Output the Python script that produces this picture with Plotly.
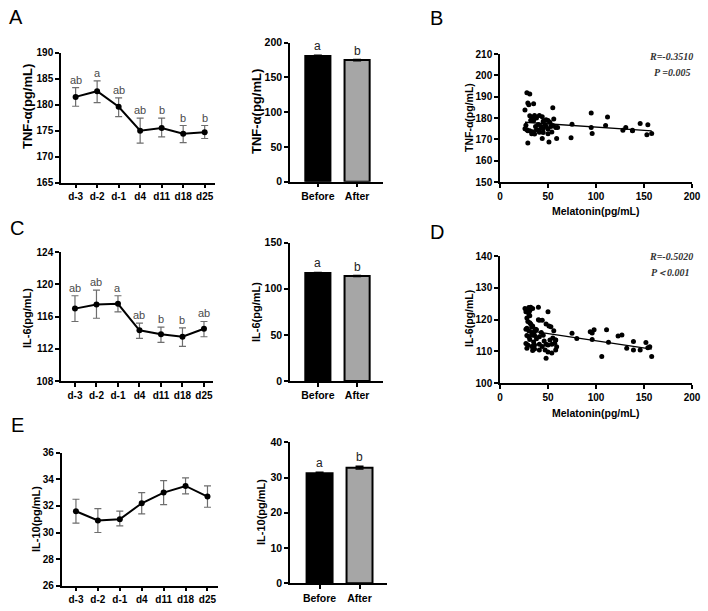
import numpy as np
import plotly.graph_objects as go

W, H = 708, 611

# ---------------- data ----------------
days = ["d-3", "d-2", "d-1", "d4", "d11", "d18", "d25"]
groups = ["Before", "After"]

tnf_mean = [181.5, 182.6, 179.6, 175.0, 175.5, 174.4, 174.7]
tnf_upper = [183.3, 184.6, 181.3, 177.4, 177.4, 176.0, 176.0]
tnf_lower = [179.7, 180.4, 177.7, 172.6, 173.8, 172.7, 173.5]
tnf_letters = ["ab", "a", "ab", "ab", "b", "b", "b"]

il6_mean = [117.0, 117.5, 117.6, 114.3, 113.8, 113.5, 114.5]
il6_upper = [118.6, 119.3, 118.6, 115.2, 114.7, 114.6, 115.4]
il6_lower = [115.4, 115.8, 116.6, 113.3, 112.8, 112.3, 113.5]
il6_letters = ["ab", "ab", "a", "ab", "b", "b", "ab"]

il10_mean = [31.6, 30.9, 31.0, 32.2, 33.0, 33.5, 32.7]
il10_upper = [32.5, 31.8, 31.6, 33.0, 33.9, 34.1, 33.5]
il10_lower = [30.7, 30.0, 30.5, 31.4, 32.1, 32.9, 31.9]

tnf_bar = [180.8, 175.0]
tnf_bar_err = [1.0, 0.8]
il6_bar = [117.2, 113.9]
il6_bar_err = [0.5, 0.5]
il10_bar = [31.2, 32.8]
il10_bar_err = [0.3, 0.4]
bar_letters = ["a", "b"]

mel_b = [28, 31, 29, 30, 35, 26, 55,
         31, 34, 36, 41, 44,
         27, 26, 32, 35, 38, 45, 48, 50, 56,
         28, 31, 34, 38, 41, 45, 48, 50, 53, 55, 58, 60,
         33, 36, 41, 45, 50, 54,
         29, 37, 40, 43, 47, 52,
         29, 44, 51, 59,
         74, 75, 95, 95, 96, 112, 110,
         128, 131, 138, 138, 146, 154, 153, 158]
tnf_b = [191.8, 191.2, 187.0, 186.2, 186.7, 183.8, 184.8,
         181.0, 180.3, 181.2, 181.2, 180.6,
         176.6, 175.0, 179.0, 178.8, 180.0, 178.5, 179.2, 178.8, 179.5,
         174.5, 174.0, 173.5, 174.5, 174.5, 175.0, 176.0, 174.8, 176.0, 176.5, 175.5, 175.5,
         172.6, 172.5, 173.3, 173.2, 172.6, 173.4,
         174.0, 176.0, 177.0, 176.0, 177.0, 178.0,
         168.3, 170.4, 168.8, 170.4,
         170.7, 177.1, 182.4, 175.5, 172.7, 180.5, 176.5,
         174.3, 175.5, 174.0, 174.3, 177.4, 176.8, 172.1, 172.7]

mel_d = [26, 28, 30, 32, 34, 31, 27, 30, 31, 28, 40, 50,
         29, 31, 32, 40, 41, 44, 48, 51, 53,
         28, 33, 34, 27, 30, 33, 35, 36,
         28, 30, 33, 36, 38, 41, 45, 52, 55, 58,
         27, 29, 33, 36, 41, 44, 48, 50, 54, 57, 58,
         28, 36, 41, 47, 50, 54, 58, 59,
         48, 34, 35, 31, 37, 43, 46, 56, 38,
         75, 80, 94, 96, 98, 96, 111, 113, 106,
         123, 127, 132, 139, 139, 146, 152, 154, 156, 158]
il6_d = [123.5, 123.2, 123.8, 123.9, 123.5, 122.8, 122.5, 121.8, 121.2, 120.5, 123.9, 122.5,
         119.4, 119.0, 118.6, 120.0, 119.8, 119.8, 118.6, 118.0, 117.8,
         117.3, 117.6, 118.0, 117.0, 116.5, 116.0, 115.4, 116.3,
         115.0, 114.6, 115.1, 115.0, 114.0, 114.6, 115.1, 113.6, 114.2, 113.6,
         112.5, 112.0, 111.6, 112.0, 112.3, 111.6, 112.3, 112.0, 112.3, 112.6, 113.6,
         111.0, 110.8, 110.5, 110.5, 109.8, 109.5, 110.5, 111.5,
         107.9, 110.3, 113.0, 113.8, 117.0, 116.0, 113.3, 116.5, 116.8,
         115.7, 114.1, 116.2, 115.8, 116.8, 113.8, 116.8, 112.9, 108.4,
         114.9, 115.2, 111.0, 113.1, 110.5, 110.5, 112.8, 111.2, 111.5, 108.4]

# ---------------- helpers ----------------
FONT = "Liberation Sans, Arial, sans-serif"
tickfont = dict(family=FONT, size=10, color="black", weight="bold")
tickfont_bar = dict(family=FONT, size=10.5, color="black", weight="bold")


def xd(a, b):
    return [a / W, b / W]


def yd(top, bottom):
    return [1 - bottom / H, 1 - top / H]


fig = go.Figure()
annotations = []
layout = dict(width=W, height=H, margin=dict(l=0, r=0, t=0, b=0),
              paper_bgcolor="white", plot_bgcolor="white", showlegend=False)

axis_common = dict(showline=True, linecolor="black", linewidth=1.5, ticks="outside",
                   ticklen=4, tickwidth=1.5, tickcolor="black", showgrid=False,
                   zeroline=False, tickfont=tickfont, automargin=False, fixedrange=True)


def add_axes(n, xdom, ydom, xrange, yrange, ydtick, xtickvals=None, xticktext=None, xdtick=None, tf=None):
    xs = "xaxis" if n == 1 else f"xaxis{n}"
    ys = "yaxis" if n == 1 else f"yaxis{n}"
    xa = dict(axis_common, domain=xd(*xdom), range=xrange, anchor=f"y{n}" if n > 1 else "y")
    if xtickvals is not None:
        xa.update(tickmode="array", tickvals=xtickvals, ticktext=xticktext)
    else:
        xa.update(dtick=xdtick, tick0=0)
    ya = dict(axis_common, domain=yd(*ydom), range=yrange, dtick=ydtick, tick0=0,
              anchor=f"x{n}" if n > 1 else "x")
    if tf is not None:
        xa["tickfont"] = tf
        ya["tickfont"] = tf
    layout[xs] = xa
    layout[ys] = ya


def ref(n):
    return ("x" if n == 1 else f"x{n}"), ("y" if n == 1 else f"y{n}")


def ytitle(text, xpx, ycenter, size=11):
    annotations.append(dict(text=text, xref="paper", yref="paper", x=xpx / W, y=1 - ycenter / H,
                            xanchor="center", yanchor="middle", textangle=-90, showarrow=False,
                            font=dict(family=FONT, size=size, color="black", weight="bold")))


def line_panel(n, mean, upper, lower, letters):
    xr, yr = ref(n)
    idx = list(range(len(days)))
    fig.add_trace(go.Scatter(
        x=idx, y=mean, xaxis=xr, yaxis=yr, mode="lines+markers",
        line=dict(color="black", width=2), marker=dict(color="black", size=6),
        error_y=dict(type="data", symmetric=False,
                     array=[u - m for u, m in zip(upper, mean)],
                     arrayminus=[m - l for m, l in zip(mean, lower)],
                     color="#6e6e6e", thickness=1.2, width=3.5)))
    if letters:
        for i, lt in enumerate(letters):
            annotations.append(dict(text=lt, xref=xr, yref=yr, x=i, y=upper[i], yanchor="bottom",
                                    xanchor="center", yshift=0, showarrow=False,
                                    font=dict(family=FONT, size=11, color="#4a4a4a")))


def bar_panel(n, vals, errs, width):
    xr, yr = ref(n)
    fig.add_trace(go.Bar(
        x=[0, 1], y=vals, xaxis=xr, yaxis=yr, width=width,
        marker=dict(color=["black", "#a6a6a6"], line=dict(color="black", width=2)),
        error_y=dict(type="data", array=errs, color="black", thickness=1.5, width=4)))
    for i, lt in enumerate(bar_letters):
        annotations.append(dict(text=lt, xref=xr, yref=yr, x=i, y=vals[i] + errs[i], yanchor="bottom",
                                xanchor="center", yshift=0, showarrow=False,
                                font=dict(family=FONT, size=12, color="#222222")))


def scatter_panel(n, xs, ys):
    xr, yr = ref(n)
    fig.add_trace(go.Scatter(x=xs, y=ys, xaxis=xr, yaxis=yr, mode="markers",
                             marker=dict(color="black", size=5)))
    k, b = np.polyfit(xs, ys, 1)
    lx = [min(xs), max(xs)]
    fig.add_trace(go.Scatter(x=lx, y=[k * v + b for v in lx], xaxis=xr, yaxis=yr, mode="lines",
                             line=dict(color="black", width=1.3)))


# ---------------- panels ----------------
# A line
add_axes(1, (61, 215), (52.7, 182.7), [-0.68, 6.48], [165, 190], 5, list(range(7)), days)
line_panel(1, tnf_mean, tnf_upper, tnf_lower, tnf_letters)
ytitle("TNF-α(pg/mL)", 27, 107, 13)

# A bar
add_axes(2, (290, 383), (42.7, 181.7), [-0.71, 1.66], [0, 200], 50, [0, 1], groups, tf=tickfont_bar)
bar_panel(2, tnf_bar, tnf_bar_err, 0.64)
ytitle("TNF-α(pg/mL)", 256, 112, 13)

# B scatter
add_axes(3, (500, 692), (54, 182), [0, 200], [150, 210], 10, xdtick=50)
scatter_panel(3, mel_b, tnf_b)
ytitle("TNF-α(pg/mL)", 469, 118, 10.5)

# C line
add_axes(4, (61, 213), (252.3, 381), [-0.65, 6.42], [108, 124], 4, list(range(7)), days)
line_panel(4, il6_mean, il6_upper, il6_lower, il6_letters)
ytitle("IL-6(pg/mL)", 27, 318, 11)

# C bar
add_axes(5, (290, 383), (242.7, 381), [-0.71, 1.66], [0, 150], 50, [0, 1], groups, tf=tickfont_bar)
bar_panel(5, il6_bar, il6_bar_err, 0.64)
ytitle("IL-6(pg/mL)", 256, 312, 11)

# D scatter
add_axes(6, (500, 692), (256, 383.3), [0, 200], [100, 140], 10, xdtick=50)
scatter_panel(6, mel_d, il6_d)
ytitle("IL-6(pg/mL)", 469, 319, 10.5)

# E line
add_axes(7, (61.7, 218), (452.7, 585.7), [-0.65, 6.48], [26, 36], 2, list(range(7)), days)
line_panel(7, il10_mean, il10_upper, il10_lower, None)
ytitle("IL-10(pg/mL)", 36, 519, 11)

# E bar
add_axes(8, (290, 386.7), (442.3, 583.3), [-0.74, 1.68], [0, 40], 10, [0, 1], groups, tf=tickfont_bar)
bar_panel(8, il10_bar, il10_bar_err, 0.65)
ytitle("IL-10(pg/mL)", 261, 512, 11)

# x titles for scatter
for yc in (210.5, 412.5):
    annotations.append(dict(text="Melatonin(pg/mL)", xref="paper", yref="paper", x=596 / W, y=1 - yc / H,
                            xanchor="center", yanchor="middle", showarrow=False,
                            font=dict(family=FONT, size=10.5, color="black", weight="bold")))

# stats text
stat_font = dict(family="Liberation Serif, Times New Roman, serif", size=10, color="#333333",
                 weight="bold", style="italic")
for txt, xr_, yc in (("R=-0.3510", 695, 57), ("P =0.005", 692, 72),
                     ("R=-0.5020", 695, 257), ("P＜0.001", 692, 272)):
    annotations.append(dict(text=txt, xref="paper", yref="paper", x=xr_ / W, y=1 - yc / H,
                            xanchor="right", yanchor="middle", showarrow=False, font=stat_font))

# panel letters
for lt, xc, yc in (("A", 16, 17), ("B", 437, 18), ("C", 17, 228), ("D", 437, 232), ("E", 17, 425)):
    annotations.append(dict(text=lt, xref="paper", yref="paper", x=xc / W, y=1 - yc / H,
                            xanchor="center", yanchor="middle", showarrow=False,
                            font=dict(family=FONT, size=20, color="black")))

layout["annotations"] = annotations
fig.update_layout(**layout)
fig.write_html("out.html")
